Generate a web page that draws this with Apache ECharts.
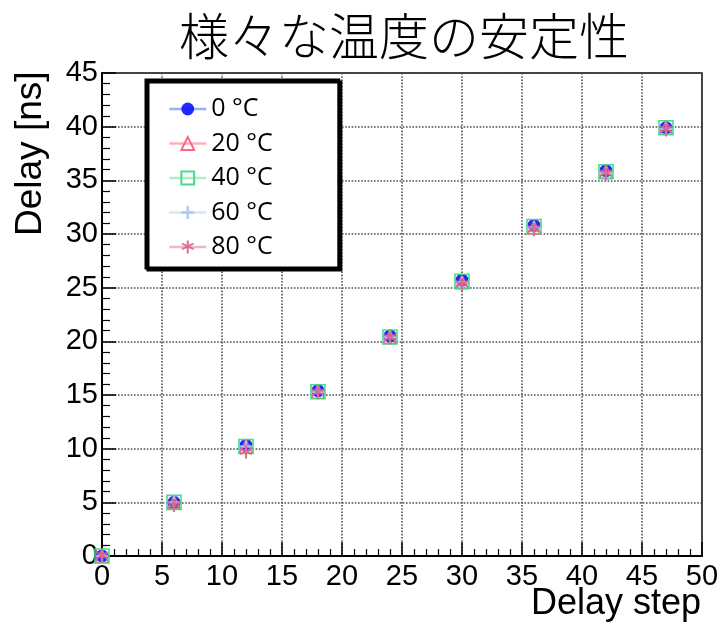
<!DOCTYPE html>
<html>
<head>
<meta charset="utf-8">
<script src="https://cdn.jsdelivr.net/npm/echarts@6/dist/echarts.min.js"></script>
<style>html,body{margin:0;padding:0;background:#fff;}#c{width:722px;height:629px;}</style>
</head>
<body>
<div id="c"></div>
<script>
const titleText = '様々な温度の安定性';
const xName = 'Delay step';
const yName = 'Delay [ns]';
const steps = [0, 6, 12, 18, 24, 30, 36, 42, 47];
const seriesNames = ['0 °C', '20 °C', '40 °C', '60 °C', '80 °C'];
const delay0 = [0, 5.0, 10.3, 15.4, 20.5, 25.7, 30.8, 35.9, 39.9];
const delay20 = [0, 5.0, 10.2, 15.3, 20.4, 25.5, 30.6, 35.8, 39.9];
const delay40 = [0, 5.0, 10.2, 15.3, 20.4, 25.6, 30.7, 35.8, 39.9];
const delay60 = [0, 5.0, 10.2, 15.3, 20.4, 25.5, 30.6, 35.7, 39.8];
const delay80 = [0, 4.7, 9.7, 15.2, 20.3, 25.3, 30.4, 35.6, 39.7];
const allDelays = [delay0, delay20, delay40, delay60, delay80];

const colors = ['#0a14ff', '#ff5c7f', '#3fd884', '#a9c8f0', '#d8668a'];
const lineColors = ['#6f8cff', '#ff8fa5', '#8ee8b4', '#c5dbf5', '#e39ab2'];
const triPath = 'path://M5,0 L10,10 L0,10 Z';
const sqPath = 'path://M0,0 L10,0 L10,10 L0,10 Z';
const plusPath = 'path://M4,0 L6,0 L6,4 L10,4 L10,6 L6,6 L6,10 L4,10 L4,6 L0,6 L0,4 L4,4 Z';
const starPath = 'path://M4.3,0 L5.7,0 L5.7,3.3 L8.6,1.6 L9.3,2.8 L6.4,4.5 L9.3,6.2 L8.6,7.4 L5.7,5.7 L5.7,10 L4.3,10 L4.3,5.7 L1.4,7.4 L0.7,6.2 L3.6,4.5 L0.7,2.8 L1.4,1.6 L4.3,3.3 Z';
const symbols = ['circle', triPath, sqPath, plusPath, starPath];
const sizes = [13, 13, 14, 12, 13];
const hollow = [false, true, true, false, false];

const chart = echarts.init(document.getElementById('c'));
const series = seriesNames.map((n, i) => ({
  name: n,
  type: 'line',
  clip: false,
  symbol: symbols[i],
  symbolSize: sizes[i],
  showSymbol: true,
  itemStyle: hollow[i]
    ? { color: 'rgba(255,255,255,0)', borderColor: colors[i], borderWidth: 1.6, opacity: 0.95 }
    : { color: colors[i], borderWidth: 0, opacity: 0.9 },
  lineStyle: { width: 0, opacity: 0 },
  emphasis: { disabled: true },
  data: steps.map((s, k) => [s, allDelays[i][k]]),
  z: 3 + i
}));

const axisFont = '"Liberation Sans", Arial, Helvetica, sans-serif';
chart.setOption({
  animation: false,
  backgroundColor: '#fff',
  title: {
    text: titleText,
    left: 174,
    top: 6,
    textStyle: { fontFamily: 'Noto Sans CJK JP', fontSize: 50, fontWeight: 300, color: '#000' }
  },
  grid: { left: 102, right: 20, top: 73, bottom: 73, show: true, borderColor: '#000', borderWidth: 1.5, backgroundColor: 'transparent' },
  legend: {
    orient: 'vertical',
    left: 146,
    top: 80,
    padding: [16, 66, 8, 22],
    itemWidth: 37,
    itemHeight: 16,
    itemGap: 8.5,
    backgroundColor: '#fff',
    borderColor: '#000',
    borderWidth: 3,
    borderRadius: 0,
    shadowColor: '#000',
    shadowOffsetX: 2,
    shadowOffsetY: 2,
    shadowBlur: 0,
    textStyle: { fontFamily: 'Open Sans', fontSize: 25, color: '#000', lineHeight: 26 },
    data: seriesNames.map((n, i) => ({ name: n, lineStyle: { width: 2.5, opacity: 0.7, color: lineColors[i] } }))
  },
  xAxis: {
    type: 'value',
    min: 0, max: 50, interval: 5,
    axisLine: { show: true, onZero: false, lineStyle: { color: '#000', width: 2 } },
    axisTick: { show: true, inside: true, length: 14, lineStyle: { color: '#000', width: 1.5 } },
    minorTick: { show: true, splitNumber: 5, length: 7, lineStyle: { color: '#000', width: 1.2 } },
    axisLabel: { fontFamily: axisFont, fontSize: 29, color: '#000', margin: 6 },
    splitLine: { show: true, lineStyle: { type: 'dotted', color: '#46505f', width: 1.6 } }
  },
  yAxis: {
    type: 'value',
    min: 0, max: 45, interval: 5,
    axisLine: { show: true, onZero: false, lineStyle: { color: '#000', width: 2 } },
    axisTick: { show: true, inside: true, length: 14, lineStyle: { color: '#000', width: 1.5 } },
    minorTick: { show: true, splitNumber: 5, length: 8, lineStyle: { color: '#000', width: 1.2 } },
    axisLabel: { fontFamily: axisFont, fontSize: 29, color: '#000', margin: 4 },
    splitLine: { show: true, lineStyle: { type: 'dotted', color: '#46505f', width: 1.6 } }
  },
  graphic: [
    { type: 'text', right: 21, top: 586, style: { text: xName, font: '36px "Liberation Sans", Arial, sans-serif', fill: '#000' } },
    { type: 'text', x: 12, y: 236, rotation: Math.PI / 2, style: { text: yName, font: '37px "Liberation Sans", Arial, sans-serif', fill: '#000', textVerticalAlign: 'top' } }
  ],
  series: series
});
</script>
</body>
</html>
